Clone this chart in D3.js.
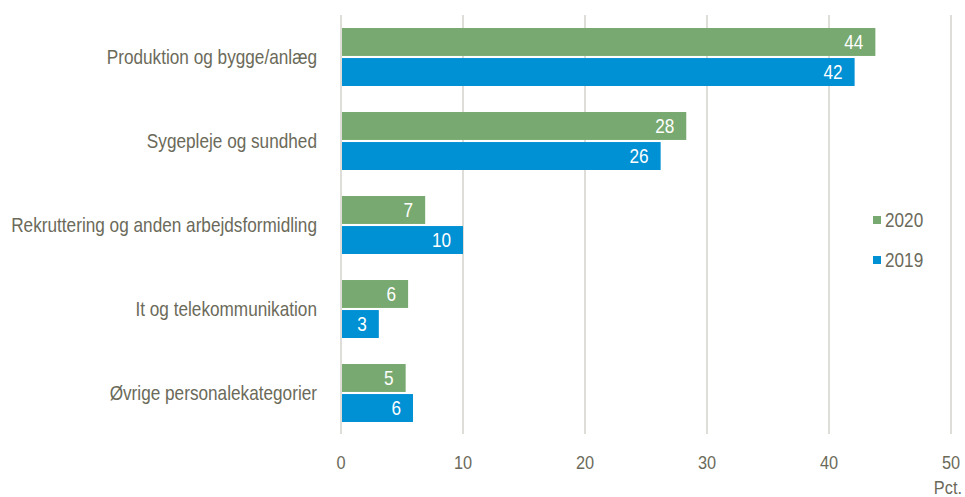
<!DOCTYPE html>
<html>
<head>
<meta charset="utf-8">
<script src="https://cdn.jsdelivr.net/npm/d3@7"></script>
<style>
  body { margin: 0; background: #fff; }
  text { font-family: "Liberation Sans Narrow", "Arial Narrow", "Liberation Sans", Arial, sans-serif; }
</style>
</head>
<body>
<div id="chart"></div>
<script>
// Data
const categories = [
  "Produktion og bygge/anlæg",
  "Sygepleje og sundhed",
  "Rekruttering og anden arbejdsformidling",
  "It og telekommunikation",
  "Øvrige personalekategorier"
];
const values2020 = [43.8, 28.3, 6.9, 5.5, 5.3];
const values2019 = [42.1, 26.2, 10.0, 3.1, 5.9];
const labels2020 = ["44", "28", "7", "6", "5"];
const labels2019 = ["42", "26", "10", "3", "6"];
const seriesNames = ["2020", "2019"];
const xTicks = [0, 10, 20, 30, 40, 50];

const width = 965, height = 497;
const colors = { "2020": "#78a970", "2019": "#0090d4" };
const textColor = "#6b6a5a";

const svg = d3.select("#chart").append("svg")
  .attr("width", width)
  .attr("height", height);

// the reference uses a narrow face; squeeze regular text to match
const probe = svg.append("text").attr("font-size", 20).text(categories[2]);
const k = Math.min(1, 306 / probe.node().getComputedTextLength());
probe.remove();

function place(sel, fx, fy) {
  sel.attr("transform", (d, i) => `translate(${fx(d, i)},${fy(d, i)}) scale(${k},1)`);
}

const x = d3.scaleLinear().domain([0, 50]).range([341, 951]);
const y = d3.scaleBand().domain(categories).range([15, 435]).paddingInner(0.31).paddingOuter(0.155);
const ySub = d3.scaleBand().domain(seriesNames).range([0, y.bandwidth()]).paddingInner(0.07);

// Gridlines
svg.append("g")
  .selectAll("line")
  .data(xTicks)
  .join("line")
  .attr("x1", d => x(d))
  .attr("x2", d => x(d))
  .attr("y1", 15)
  .attr("y2", 434)
  .attr("stroke", "#c9c7bd")
  .attr("stroke-width", 1.2);

// Tick labels
svg.append("g")
  .selectAll("text")
  .data(xTicks)
  .join("text")
  .call(place, d => x(d), () => 462)
  .attr("dy", "0.35em")
  .attr("text-anchor", "middle")
  .attr("font-size", 19)
  .attr("fill", textColor)
  .text(d => d);

svg.append("text")
  .datum("Pct.")
  .call(place, () => 962, () => 487)
  .attr("dy", "0.35em")
  .attr("text-anchor", "end")
  .attr("font-size", 19)
  .attr("fill", textColor)
  .text("Pct.");

// Category labels
svg.append("g")
  .selectAll("text")
  .data(categories)
  .join("text")
  .call(place, () => 317, d => y(d) + y.bandwidth() / 2)
  .attr("dy", "0.35em")
  .attr("text-anchor", "end")
  .attr("font-size", 20)
  .attr("fill", textColor)
  .text(d => d);

// Bars
const series = [
  { name: "2020", values: values2020, labels: labels2020 },
  { name: "2019", values: values2019, labels: labels2019 }
];

series.forEach(s => {
  const g = svg.append("g");
  g.selectAll("rect")
    .data(categories)
    .join("rect")
    .attr("x", x(0) + 1)
    .attr("y", d => y(d) + ySub(s.name))
    .attr("width", (d, i) => x(s.values[i]) - x(0) - 1)
    .attr("height", ySub.bandwidth())
    .attr("fill", colors[s.name]);

  g.selectAll("text")
    .data(categories)
    .join("text")
    .call(place, (d, i) => x(s.values[i]) - 12, d => y(d) + ySub(s.name) + ySub.bandwidth() / 2)
    .attr("dy", "0.36em")
    .attr("text-anchor", "end")
    .attr("font-size", 20)
    .attr("fill", "#fff")
    .text((d, i) => s.labels[i]);
});

// Legend
const legend = svg.append("g")
  .selectAll("g")
  .data(seriesNames)
  .join("g")
  .attr("transform", (d, i) => `translate(873, ${220 + i * 40})`);

legend.append("rect")
  .attr("x", 0)
  .attr("y", -4)
  .attr("width", 8)
  .attr("height", 8)
  .attr("fill", d => colors[d]);

legend.append("text")
  .call(place, () => 12, () => 0)
  .attr("dy", "0.35em")
  .attr("font-size", 20)
  .attr("fill", textColor)
  .text(d => d);
</script>
</body>
</html>
